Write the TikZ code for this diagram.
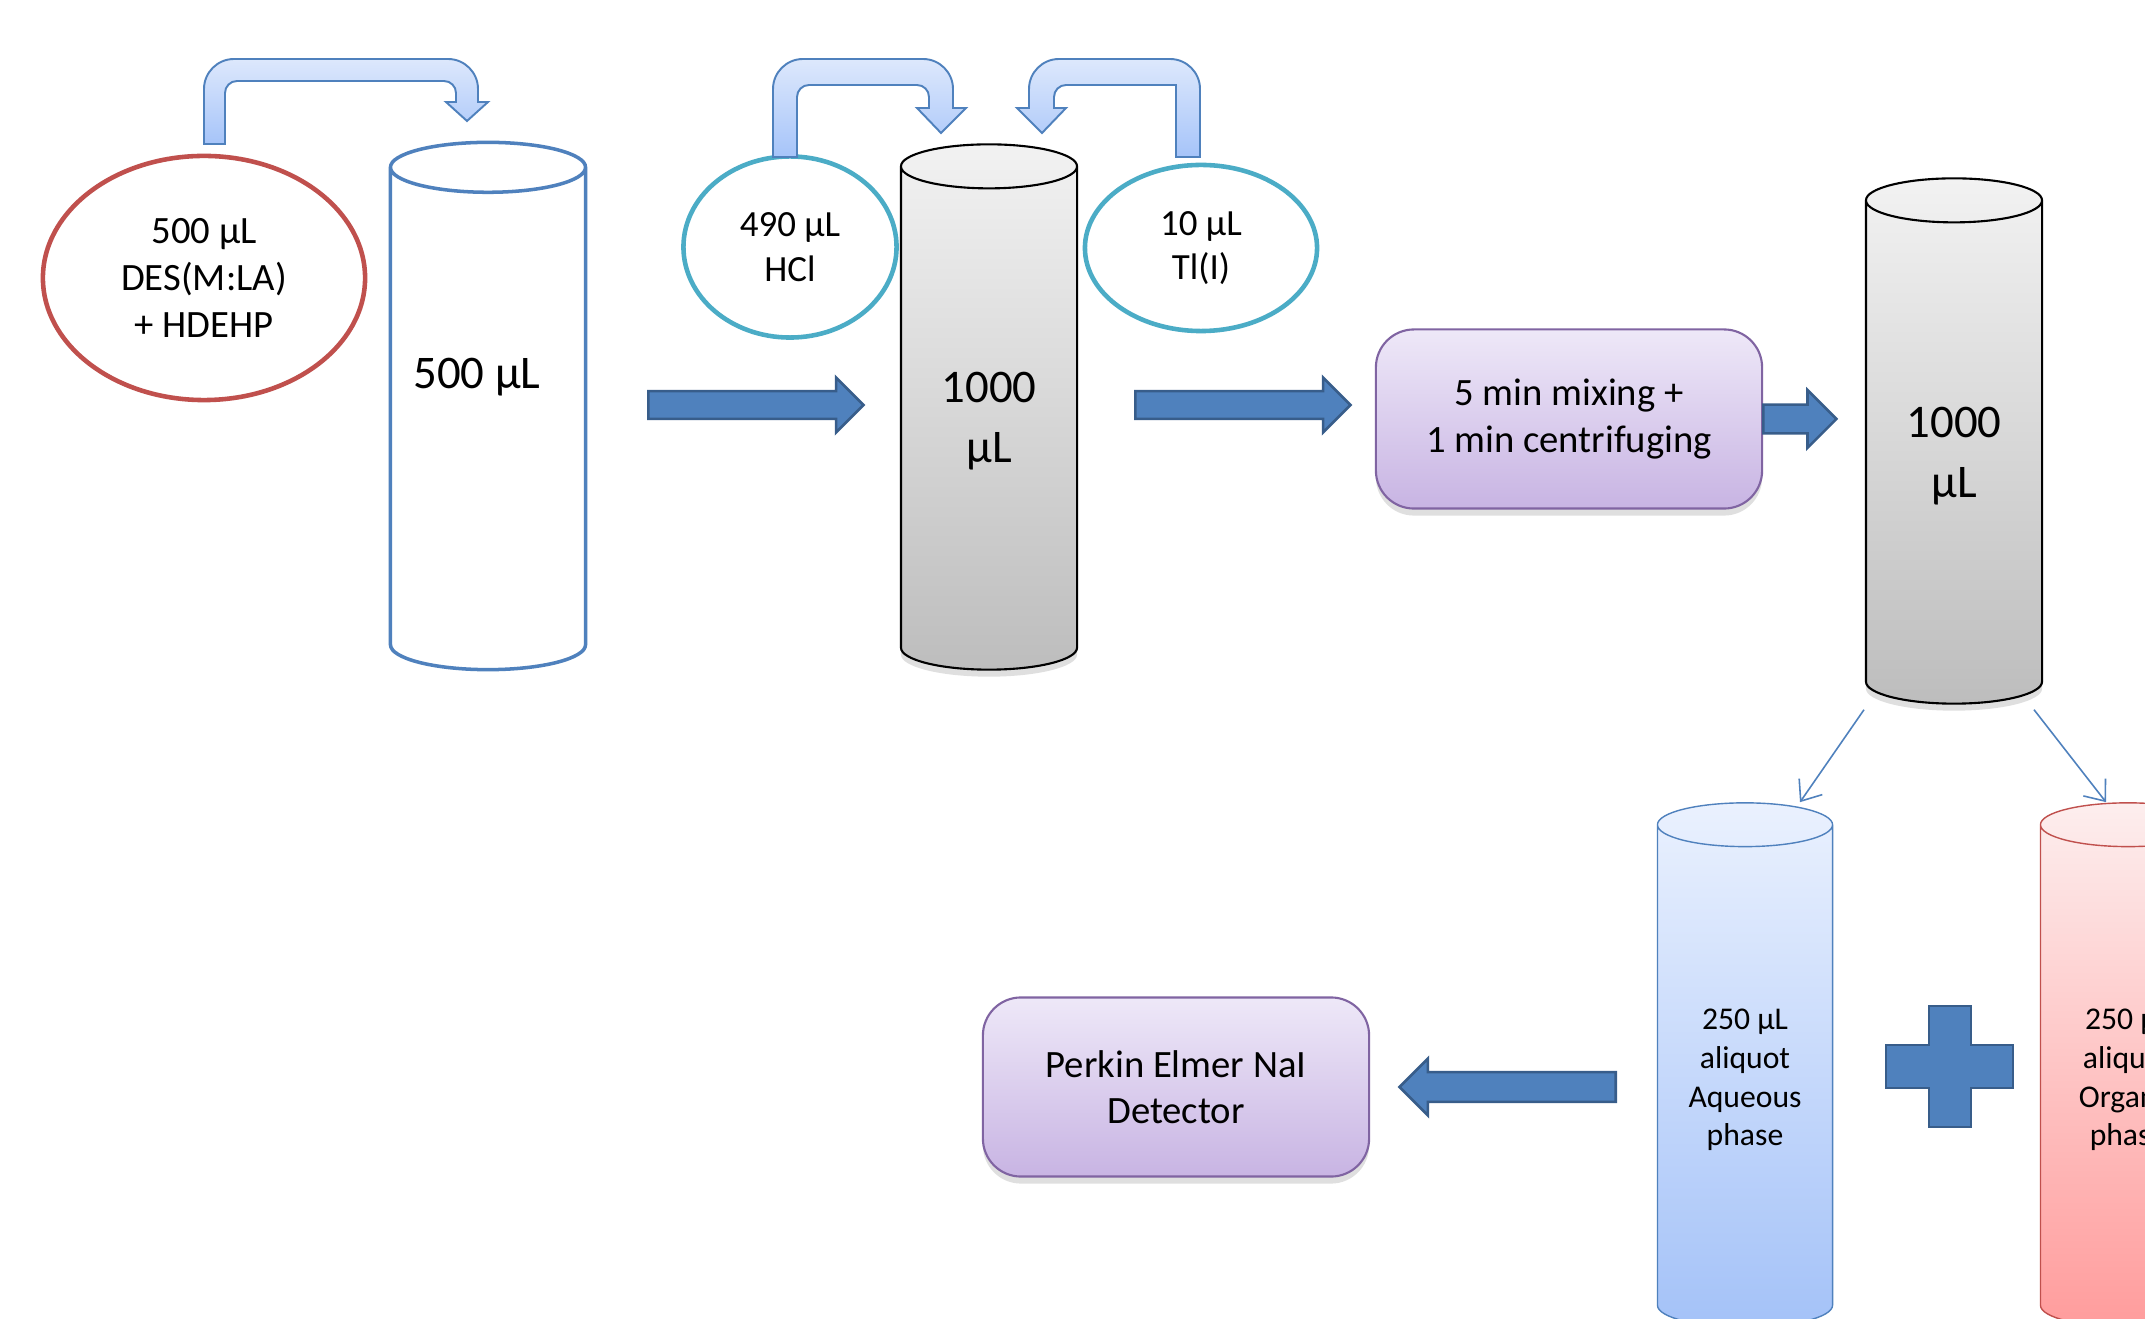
\documentclass[tikz,border=0pt]{standalone}
\usepackage{fontspec}
\setmainfont{Carlito}
\usetikzlibrary{shapes.geometric,shapes.arrows,shadows,calc,arrows.meta}

\definecolor{solRed}{HTML}{C0504D}
\definecolor{solTeal}{HTML}{4BACC6}
\definecolor{blueLine}{HTML}{4F81BD}
\definecolor{blockLine}{HTML}{385D8A}
\definecolor{blockFill}{HTML}{4F81BD}
\definecolor{greyTop}{HTML}{F2F2F2}
\definecolor{greyBot}{HTML}{BDBDBD}
\definecolor{lilacTop}{HTML}{EEE8F8}
\definecolor{lilacBot}{HTML}{C8B4E3}
\definecolor{lilacLine}{HTML}{8064A2}
\definecolor{bendTop}{HTML}{DDE8FC}
\definecolor{bendBot}{HTML}{A6C4F9}
\definecolor{aqTop}{HTML}{EAF1FE}
\definecolor{aqBot}{HTML}{A4C2F8}
\definecolor{orgTop}{HTML}{FDEEEE}
\definecolor{orgBot}{HTML}{FF9C9C}

\begin{document}
\begin{tikzpicture}
[x=0.01cm,y=-0.01cm,
  solDecorate/.style={shape=ellipse,line width=1.3pt,inner sep=0pt,align=center,
    font=\fontsize{10.5}{12.6}\selectfont},
  tubeDecorate/.style={shape=cylinder,shape border rotate=90,aspect=0.25,inner sep=0.88cm,
    anchor=shape center,minimum width=1.76cm,minimum height=5.25cm},
  greyDecorate/.style={tubeDecorate,draw=black,line width=0.6pt,top color=greyTop,
    bottom color=greyBot,drop shadow={opacity=0.25,shadow xshift=0pt,shadow yshift=-2pt}},
  stepDecorate/.style={rectangle,rounded corners=0.38cm,draw=lilacLine,line width=0.6pt,
    top color=lilacTop,bottom color=lilacBot,minimum width=3.86cm,minimum height=1.79cm,
    align=center,font=\fontsize{11}{13.2}\selectfont,
    drop shadow={opacity=0.25,shadow xshift=0pt,shadow yshift=-2pt}},
  blockDecorate/.style={single arrow,draw=blockLine,fill=blockFill,line width=0.75pt,anchor=tail,
    inner xsep=0pt,inner ysep=0.125cm,single arrow head extend=0.135cm,minimum width=0.52cm},
  bendDecorate/.style={draw=blueLine,line width=0.55pt,top color=bendTop,bottom color=bendBot},
  thinDecorate/.style={draw=blueLine,line width=0.45pt,-{Straight Barb[length=5pt,width=8pt]}},
  bigText/.style={font=\fontsize{13.3}{17}\selectfont,align=center},
  smallText/.style={font=\fontsize{9}{11}\selectfont,align=center}]
\useasboundingbox (0,0) rectangle (2145,1319);
\fill[white] (0,0) rectangle (2145,1319);
\clip (0,0) rectangle (2145,1319);

%% solutions
\node (des) at (204,278) [solDecorate,draw=solRed,minimum width=3.22cm,minimum height=2.44cm,
  font=\fontsize{11}{13.4}\selectfont] {500 µL\\DES(M:LA)\\+ HDEHP};
\node (hcl) at (790,247) [solDecorate,draw=solTeal,minimum width=2.13cm,minimum height=1.81cm]
  {490 µL\\HCl};
\node (tl) at (1201,248) [solDecorate,draw=solTeal,minimum width=2.32cm,minimum height=1.66cm]
  {10 µL\\Tl(I)};

%% tubes
\node (tube1) at (488,406) [tubeDecorate,draw=blueLine,line width=1pt,fill=white,
  inner sep=0.975cm,aspect=0.256,minimum width=1.95cm,minimum height=5.27cm] {};
\node (tube2) at (989,407) [greyDecorate] {};
\node (tube3) at (1954,441) [greyDecorate] {};
\node (aq) at (1745,1065) [tubeDecorate,draw=blueLine,line width=0.4pt,top color=aqTop,
  bottom color=aqBot,inner sep=0.875cm,minimum width=1.75cm,minimum height=5.24cm] {};
\node (org) at (2128,1065) [tubeDecorate,draw=solRed,line width=0.4pt,top color=orgTop,
  bottom color=orgBot,inner sep=0.875cm,minimum width=1.75cm,minimum height=5.24cm] {};
\node [bigText] at ([shift={(-11,-29)}]tube1.shape center) {500 µL};
\node [bigText] at ([shift={(0,14)}]tube2.shape center) {1000\\µL};
\node [bigText] at ([shift={(0,15)}]tube3.shape center) {1000\\µL};
\node [smallText] at ([shift={(0,15)}]aq.shape center) {250 µL\\aliquot\\Aqueous\\phase};
\node [smallText] at ([shift={(0,15)}]org.shape center) {250 µL\\aliquot\\Organic\\phase};

%% steps
\node (mix) at (1569,419) [stepDecorate] {5 min mixing +\\1 min centrifuging};
\node (det) at (1176,1087) [stepDecorate] {Perkin Elmer NaI\\Detector};

%% block arrows
\foreach \nodename/\x in {arr1/647, arr2/1134}
{
  \node (\nodename) at (\x,405) [blockDecorate,minimum height=2.15cm] {};
}
\node (arr3) at (1762,419) [blockDecorate,inner ysep=0.13cm,single arrow head extend=0.145cm,
  minimum height=0.73cm,minimum width=0.55cm] {};
\node (arr4) at (1617,1087) [blockDecorate,shape border rotate=180,inner ysep=0.135cm,
  minimum height=2.16cm,minimum width=0.54cm] {};
\draw[draw=blockLine,fill=blockFill,line width=0.75pt]
  (1929,1006) -- (1971,1006) -- (1971,1045) -- (2013,1045) -- (2013,1088) -- (1971,1088)
  -- (1971,1127) -- (1929,1127) -- (1929,1088) -- (1886,1088) -- (1886,1045) -- (1929,1045) -- cycle;

%% bent arrows
\draw[bendDecorate] (204,144) [rounded corners=0.3cm] -- (204,59) -- (478,59) [sharp corners]
  -- (478,102) -- (488,102) -- (467,121) -- (446,102) -- (456,102) [rounded corners=0.12cm]
  -- (456,81) -- (225,81) [sharp corners] -- (225,144) -- cycle;
\draw[bendDecorate] (773,157) [rounded corners=0.3cm] -- (773,59) -- (953,59) [sharp corners]
  -- (953,108) -- (966,108) -- (941,133) -- (917,108) -- (929,108) [rounded corners=0.12cm]
  -- (929,85) -- (797,85) [sharp corners] -- (797,157) -- cycle;
\draw[bendDecorate] (1200,157) [rounded corners=0.3cm] -- (1200,59) -- (1029,59) [sharp corners]
  -- (1029,108) -- (1017,108) -- (1042,133) -- (1066,108) -- (1054,108) [rounded corners=0.12cm]
  -- (1054,85) [sharp corners] -- (1176,85) -- (1176,157) -- cycle;

%% split
\draw[thinDecorate] ($(tube3.south)+(-90,5)$) -- ($(aq.north)+(55,0)$);
\draw[thinDecorate] ($(tube3.south)+(80,5)$) -- ($(org.north)+(-22,0)$);
\end{tikzpicture}
\end{document}
